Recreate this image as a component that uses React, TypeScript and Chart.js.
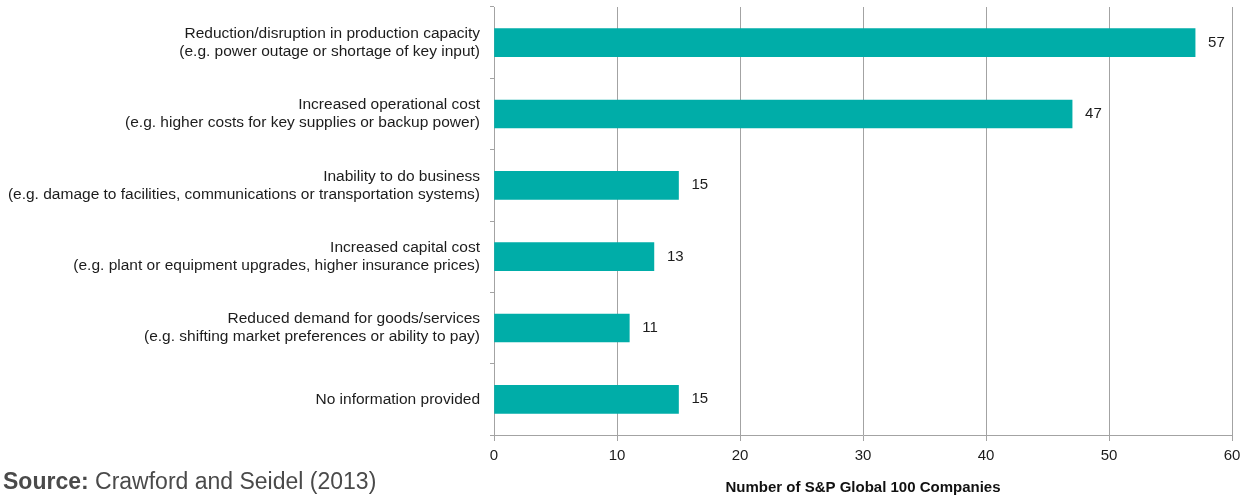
import React, { useEffect, useRef } from "react";
import { Chart, registerables } from "chart.js";

Chart.register(...registerables);

const categoryTitles: string[] = [
  "Reduction/disruption in production capacity",
  "Increased operational cost",
  "Inability to do business",
  "Increased capital cost",
  "Reduced demand for goods/services",
  "No information provided",
];

const categoryNotes: string[] = [
  "(e.g. power outage or shortage of key input)",
  "(e.g. higher costs for key supplies or backup power)",
  "(e.g. damage to facilities, communications or transportation systems)",
  "(e.g. plant or equipment upgrades, higher insurance prices)",
  "(e.g. shifting market preferences or ability to pay)",
  "",
];

const companyCounts: number[] = [57, 47, 15, 13, 11, 15];

const xTickMin = 0;
const xTickMax = 60;
const xTickStep = 10;

const xAxisTitle = "Number of S&P Global 100 Companies";

const FONT = '"Liberation Sans", Arial, Helvetica, sans-serif';
const BAR_COLOR = "#00ADA8";
const GRID_COLOR = "#a3a3a3";
const TEXT_COLOR = "#1c1c1c";

const valueLabelPlugin = {
  id: "valueLabels",
  afterDatasetsDraw(chart: any) {
    const ctx = chart.ctx;
    const meta = chart.getDatasetMeta(0);
    const data = chart.data.datasets[0].data as number[];
    ctx.save();
    ctx.font = `15px ${FONT}`;
    ctx.fillStyle = TEXT_COLOR;
    ctx.textAlign = "left";
    ctx.textBaseline = "middle";
    meta.data.forEach((bar: any, i: number) => {
      ctx.fillText(String(data[i]), bar.x + 13, bar.y);
    });
    ctx.restore();
  },
};

export default function App() {
  const canvasRef = useRef<HTMLCanvasElement | null>(null);

  useEffect(() => {
    if (!canvasRef.current) return;
    const labels = categoryTitles.map((t, i) =>
      categoryNotes[i] ? [t, categoryNotes[i]] : t
    );
    const chart = new Chart(canvasRef.current, {
      type: "bar",
      data: {
        labels,
        datasets: [
          {
            data: companyCounts,
            backgroundColor: BAR_COLOR,
            borderWidth: 0,
            barThickness: 28,
          },
        ],
      },
      plugins: [valueLabelPlugin],
      options: {
        indexAxis: "y",
        animation: false,
        responsive: false,
        maintainAspectRatio: false,
        layout: { padding: { top: 7, right: 9, bottom: 0, left: 0 } },
        plugins: {
          legend: { display: false },
          tooltip: { enabled: false },
        },
        scales: {
          x: {
            min: xTickMin,
            max: xTickMax,
            ticks: {
              stepSize: xTickStep,
              color: TEXT_COLOR,
              font: { family: FONT, size: 15 },
              padding: 6,
            },
            grid: {
              color: GRID_COLOR,
              lineWidth: 1,
              drawTicks: true,
              tickLength: 6,
              tickColor: GRID_COLOR,
            },
            border: { color: GRID_COLOR, width: 1 },
            title: {
              display: true,
              text: xAxisTitle,
              color: "#111",
              font: { family: FONT, size: 15, weight: "bold" },
              padding: { top: 0, bottom: 0 },
            },
            afterFit(scale: any) {
              scale.height = 62;
              scale.paddingLeft = 0;
              scale.paddingRight = 0;
            },
          },
          y: {
            ticks: {
              color: TEXT_COLOR,
              font: { family: FONT, size: 15.5, lineHeight: "18px" },
              padding: 10,
            },
            grid: {
              drawOnChartArea: false,
              drawTicks: true,
              tickLength: 4,
              tickColor: GRID_COLOR,
              offset: true,
            },
            border: { color: GRID_COLOR, width: 1 },
            afterFit(scale: any) {
              scale.width = 494;
              scale.paddingTop = 0;
              scale.paddingBottom = 0;
            },
          },
        },
      } as any,
    });
    return () => chart.destroy();
  }, []);

  return (
    <div
      style={{
        position: "fixed",
        left: 0,
        top: 0,
        width: 1241,
        height: 497,
        background: "#fff",
        overflow: "hidden",
      }}
    >
      <canvas
        ref={canvasRef}
        width={1241}
        height={497}
        style={{ display: "block", width: 1241, height: 497 }}
      />
      <div
        style={{
          position: "absolute",
          left: 3,
          top: 470,
          fontFamily: FONT,
          fontSize: 23,
          lineHeight: "23px",
          color: "#4a4a4a",
          whiteSpace: "nowrap",
        }}
      >
        <span style={{ fontWeight: "bold" }}>Source:</span> Crawford and Seidel (2013)
      </div>
    </div>
  );
}
